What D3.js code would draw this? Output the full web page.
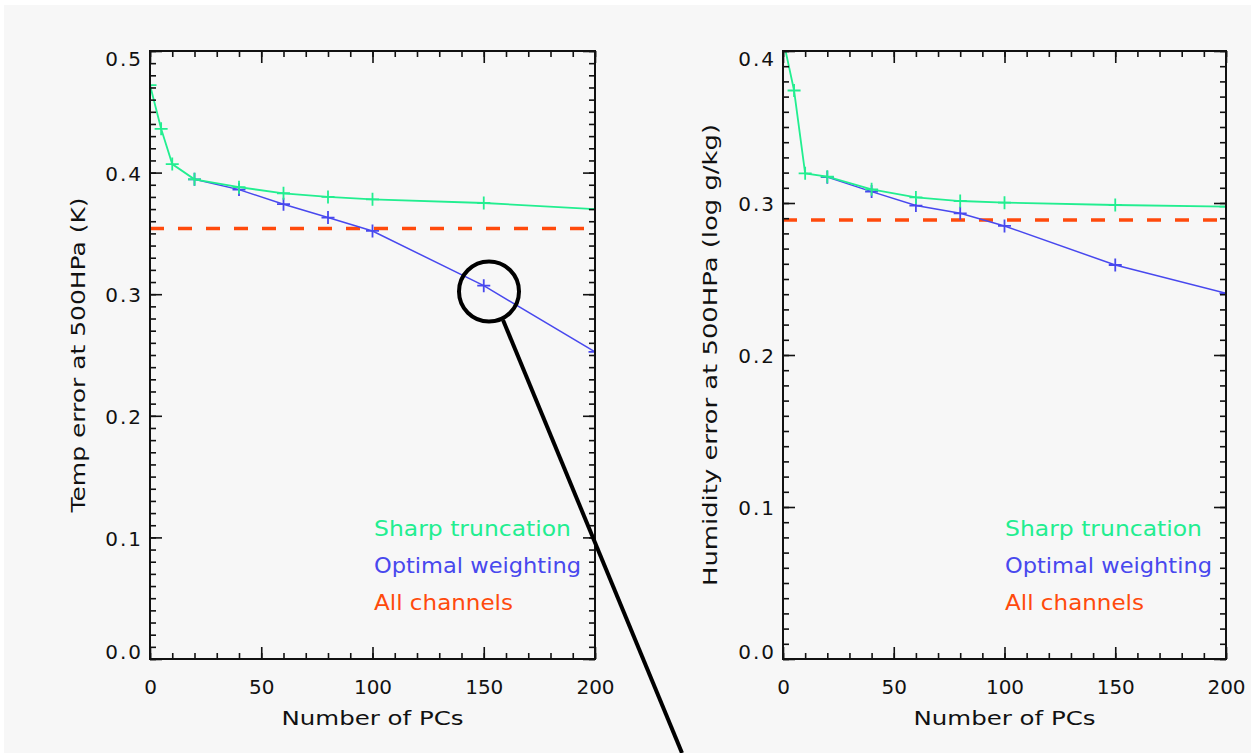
<!DOCTYPE html>
<html>
<head>
<meta charset="utf-8">
<script src="https://cdn.jsdelivr.net/npm/d3@7"></script>
<style>
  body { margin: 0; background: #ffffff; }
  svg { display: block; }
  text { font-family: "DejaVu Sans", sans-serif; fill: #111; }
</style>
</head>
<body>
<svg id="chart" width="1251" height="753"></svg>
<script>
// number of PCs
var pcs = [0, 5, 10, 20, 40, 60, 80, 100, 150, 200];
var optPcs = [20, 40, 60, 80, 100, 150, 200];

// temperature panel
var tempSharp = [0.472, 0.436, 0.407, 0.3945, 0.388, 0.383, 0.380, 0.378, 0.375, 0.370];
var tempOpt = [0.3945, 0.386, 0.374, 0.363, 0.352, 0.307, 0.2525];
var tempAll = 0.354;

// humidity panel
var humSharp = [0.408, 0.374, 0.3195, 0.3173, 0.309, 0.3037, 0.3013, 0.3002, 0.2987, 0.2976];
var humOpt = [0.317, 0.3075, 0.2983, 0.2932, 0.2849, 0.2592, 0.2406];
var humAll = 0.2888;

var xTicks = [0, 50, 100, 150, 200];
var xMinor = d3.range(0, 201, 10);
var tempTicks = [0, 0.1, 0.2, 0.3, 0.4, 0.5];
var humTicks = [0, 0.1, 0.2, 0.3, 0.4];

var legendLabels = ["Sharp truncation", "Optimal weighting", "All channels"];

var GREEN = "#22ee90", BLUE = "#4848ee", RED = "#ff4a0c";

var svg = d3.select("#chart");

// grey page background
svg.append("rect")
    .attr("x", 4).attr("y", 5)
    .attr("width", 1247).attr("height", 748)
    .attr("fill", "#f7f7f7");

var panels = [
    {id: "t", left: 150, right: 595, yMax: 0.5, sharp: tempSharp, opt: tempOpt, all: tempAll,
        yTicks: tempTicks, ylabel: "Temp error at 500HPa (K)", ylabX: 78, ylabLen: 315, legendX: 374},
    {id: "h", left: 783, right: 1226, yMax: 0.4, sharp: humSharp, opt: humOpt, all: humAll,
        yTicks: humTicks, ylabel: "Humidity error at 500HPa (log g/kg)", ylabX: 710, ylabLen: 462, legendX: 1005}
];

var plotTop = 51, plotBottom = 659;

panels.forEach(function (p) {
    drawPanel(p);
});

// 画一个面板
function drawPanel(p) {
    var x = d3.scaleLinear().domain([0, 200]).range([p.left, p.right]);
    var y = d3.scaleLinear().domain([0, p.yMax]).range([plotBottom, plotTop]);
    var g = svg.append("g");

    svg.append("clipPath").attr("id", "clip-" + p.id)
        .append("rect")
        .attr("x", p.left).attr("y", plotTop)
        .attr("width", p.right - p.left).attr("height", plotBottom - plotTop);

    var plot = g.append("g").attr("clip-path", "url(#clip-" + p.id + ")");

    // all channels, dashed
    plot.append("line")
        .attr("x1", x(0)).attr("x2", x(200))
        .attr("y1", y(p.all)).attr("y2", y(p.all))
        .attr("stroke", RED)
        .attr("stroke-width", 3.4)
        .attr("stroke-dasharray", "14,14")
        .attr("stroke-dashoffset", 0);

    var line = d3.line()
        .x(function (d) { return x(d[0]); })
        .y(function (d) { return y(d[1]); });

    var optData = optPcs.map(function (v, i) { return [v, p.opt[i]]; });
    var sharpData = pcs.map(function (v, i) { return [v, p.sharp[i]]; });

    drawSeries(plot, optData, line, x, y, BLUE, 1.5);
    drawSeries(plot, sharpData, line, x, y, GREEN, 1.8);

    // minor ticks
    var minor = 6, major = 12;
    g.append("g").attr("transform", "translate(0," + plotBottom + ")")
        .call(d3.axisBottom(x).tickValues(xMinor).tickSize(-minor).tickFormat(""));
    g.append("g").attr("transform", "translate(0," + plotTop + ")")
        .call(d3.axisTop(x).tickValues(xMinor).tickSize(-minor).tickFormat(""));
    var yMinor = d3.range(0, Math.round(p.yMax * 100) + 1).map(function (v) { return v / 100; });
    g.append("g").attr("transform", "translate(" + p.left + ",0)")
        .call(d3.axisLeft(y).tickValues(yMinor).tickSize(-minor).tickFormat(""));
    g.append("g").attr("transform", "translate(" + p.right + ",0)")
        .call(d3.axisRight(y).tickValues(yMinor).tickSize(-minor).tickFormat(""));

    // major ticks with labels
    g.append("g").attr("transform", "translate(0," + plotBottom + ")")
        .call(d3.axisBottom(x).tickValues(xTicks).tickSize(-major).tickPadding(21).tickFormat(d3.format("d")));
    g.append("g").attr("transform", "translate(0," + plotTop + ")")
        .call(d3.axisTop(x).tickValues(xTicks).tickSize(-major).tickFormat(""));
    var yl = g.append("g").attr("transform", "translate(" + p.left + ",0)")
        .call(d3.axisLeft(y).tickValues(p.yTicks).tickSize(-major).tickPadding(7).tickFormat(d3.format(".1f")));
    g.append("g").attr("transform", "translate(" + p.right + ",0)")
        .call(d3.axisRight(y).tickValues(p.yTicks).tickSize(-major).tickFormat(""));

    g.selectAll(".domain").remove();
    g.selectAll(".tick line").attr("stroke", "#111").attr("stroke-width", 1.6);
    g.selectAll(".tick text")
        .style("font-family", "'DejaVu Sans', sans-serif")
        .style("font-size", "20px")
        .attr("fill", "#111");
    yl.selectAll(".tick text")
        .attr("letter-spacing", 2)
        .attr("dy", function (d) {
            if (d === 0) return "-0.05em";
            if (Math.abs(d - p.yMax) < 1e-9) return "0.72em";
            return "0.38em";
        });

    // frame
    g.append("rect")
        .attr("x", p.left).attr("y", plotTop)
        .attr("width", p.right - p.left).attr("height", plotBottom - plotTop)
        .attr("fill", "none").attr("stroke", "#111").attr("stroke-width", 2);

    // axis titles
    g.append("text")
        .attr("x", (p.left + p.right) / 2).attr("y", 725)
        .attr("text-anchor", "middle")
        .attr("font-size", 20)
        .attr("textLength", 182)
        .attr("lengthAdjust", "spacingAndGlyphs")
        .text("Number of PCs");
    g.append("text")
        .attr("transform", "translate(" + p.ylabX + "," + (plotTop + plotBottom) / 2 + ") rotate(-90)")
        .attr("x", 0).attr("y", 7)
        .attr("text-anchor", "middle")
        .attr("font-size", 20)
        .attr("textLength", p.ylabLen)
        .attr("lengthAdjust", "spacingAndGlyphs")
        .text(p.ylabel);

    // legend
    var legLen = [197, 207, 139];
    var legColor = [GREEN, BLUE, RED];
    g.selectAll(".leg")
        .data(legendLabels)
        .enter()
        .append("text")
        .classed("leg", true)
        .attr("x", p.legendX)
        .attr("y", function (d, i) { return 536 + i * 37; })
        .attr("font-size", 21)
        .attr("textLength", function (d, i) { return legLen[i]; })
        .attr("lengthAdjust", "spacingAndGlyphs")
        .style("fill", function (d, i) { return legColor[i]; })
        .text(function (d) { return d; });
}

// 画折线和十字标记
function drawSeries(plot, data, line, x, y, color, width) {
    plot.append("path")
        .datum(data)
        .attr("d", line)
        .attr("fill", "none")
        .attr("stroke", color)
        .attr("stroke-width", width);
    plot.selectAll(null)
        .data(data)
        .enter()
        .append("path")
        .attr("d", function (d) {
            var cx = x(d[0]), cy = y(d[1]), a = 6.5;
            return "M" + (cx - a) + "," + cy + "H" + (cx + a) + "M" + cx + "," + (cy - a) + "V" + (cy + a);
        })
        .attr("stroke", color)
        .attr("stroke-width", 1.8);
}

// annotation circle and pointer
svg.append("circle")
    .attr("cx", 489).attr("cy", 291.5).attr("r", 30)
    .attr("fill", "none").attr("stroke", "#000").attr("stroke-width", 4);
svg.append("line")
    .attr("x1", 503).attr("y1", 320)
    .attr("x2", 682).attr("y2", 753)
    .attr("stroke", "#000").attr("stroke-width", 4);
</script>
</body>
</html>
